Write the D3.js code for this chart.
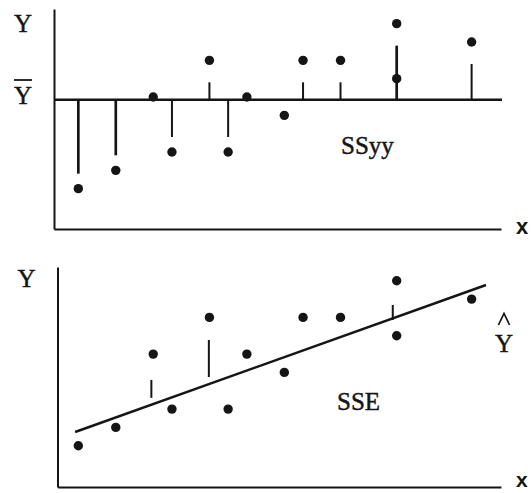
<!DOCTYPE html>
<html>
<head>
<meta charset="utf-8">
<script src="https://cdn.jsdelivr.net/npm/d3@7"></script>
<style>
body { margin: 0; background: #fff; }
svg { display: block; }
.serif { font-family: "Liberation Serif", "Times New Roman", serif; fill: #151515; stroke: #151515; stroke-width: 0.45px; }
.xlab { font-family: "Liberation Sans", Arial, sans-serif; font-weight: bold; fill: #151515; }
.axis path { stroke: #151515; }
</style>
</head>
<body>
<div id="chart"></div>
<script>
//Observations: x on a unit grid, y in the same units in both panels
var xs = [1, 3, 5, 6, 8, 9, 10, 12, 13, 15, 18, 18, 22];
var ys = [1, 2, 6, 3, 8, 3, 6, 5, 8, 8, 10, 7, 9];

//Fitted line as drawn (its two end points)
var fitX = [0.83, 22.77];
var fitY = [1.75, 9.77];

//The three residual marks of the lower panel
var sseX = [4.9, 7.97, 17.79];
var sseTop = [4.59, 6.77, 8.68];
var sseBottom = [3.61, 4.75, 7.86];

var W = 531, H = 493;
var ink = "#151515";

var svg = d3.select("#chart").append("svg")
	.attr("width", W)
	.attr("height", H);

var x = d3.scaleLinear().domain([0, 22]).range([59.6, 471.6]);
var yTop = d3.scaleLinear().domain([-1.2, 10.8]).range([229, 9]);
var yBot = d3.scaleLinear().domain([-1.25, 10.75]).range([487, 267]);

var points = xs.map(function(d, i) { return {x: d, y: ys[i]}; });
var mean = d3.mean(ys);

//Draw the two bare axes of a panel (no ticks)
function drawAxes(g, y, left, right) {
	var bottom = y.range()[0];
	g.append("g")
		.attr("class", "axis")
		.attr("transform", "translate(0," + bottom + ")")
		.call(d3.axisBottom(d3.scaleLinear().range([left, right])).tickValues([]).tickSizeOuter(0))
		.select(".domain").attr("stroke-width", 2);
	g.append("g")
		.attr("class", "axis")
		.attr("transform", "translate(" + left + ",0)")
		.call(d3.axisLeft(y).tickValues([]).tickSizeOuter(0))
		.select(".domain").attr("stroke-width", 2);
}

function drawDots(g, y) {
	g.append("g").selectAll("circle")
		.data(points)
	.enter().append("circle")
		.attr("cx", function(d) { return x(d.x); })
		.attr("cy", function(d) { return y(d.y); })
		.attr("r", 4.7)
		.attr("fill", ink);
}

//---- top panel: deviations from the mean (SSyy)
var topG = svg.append("g");
drawAxes(topG, yTop, 54, 501);

topG.append("line")
	.attr("x1", 54).attr("x2", 502)
	.attr("y1", yTop(mean)).attr("y2", yTop(mean))
	.attr("stroke", ink).attr("stroke-width", 2.4);

//stems stop short of the dots
var gapBelow = 15, gapAbove = 22;
var stems = points.map(function(d) {
	var y0 = yTop(mean), yd = yTop(d.y);
	var y1 = d.y < mean ? yd - gapBelow : yd + gapAbove;
	return {x: d.x, y0: y0, y1: y1, len: d.y < mean ? y1 - y0 : y0 - y1};
}).filter(function(s) { return s.len > 2; });

topG.append("g").selectAll("line")
	.data(stems)
.enter().append("line")
	.attr("x1", function(d) { return x(d.x); })
	.attr("x2", function(d) { return x(d.x); })
	.attr("y1", function(d) { return d.y0; })
	.attr("y2", function(d) { return d.y1; })
	.attr("stroke", ink)
	.attr("stroke-width", function(d) { return d.len > 45 ? 2.7 : 2; });

drawDots(topG, yTop);

topG.append("text").attr("class", "serif")
	.attr("x", 23).attr("y", 32).attr("text-anchor", "middle")
	.style("font-size", "25px").text("Y");
topG.append("text").attr("class", "serif")
	.attr("x", 23).attr("y", 104).attr("text-anchor", "middle")
	.style("font-size", "25px").text("Y");
topG.append("line")
	.attr("x1", 14).attr("x2", 32).attr("y1", 80).attr("y2", 80)
	.attr("stroke", ink).attr("stroke-width", 1.8);
topG.append("text").attr("class", "serif")
	.attr("x", 341).attr("y", 154)
	.style("font-size", "25px").text("SSyy");
topG.append("text").attr("class", "xlab")
	.attr("x", 516).attr("y", 234)
	.style("font-size", "22px").text("x");

//---- bottom panel: deviations from the fitted line (SSE)
var botG = svg.append("g");
drawAxes(botG, yBot, 57.5, 501);

botG.append("line")
	.attr("x1", x(fitX[0])).attr("x2", x(fitX[1]))
	.attr("y1", yBot(fitY[0])).attr("y2", yBot(fitY[1]))
	.attr("stroke", ink).attr("stroke-width", 2.5);

botG.append("g").selectAll("line")
	.data(sseX)
.enter().append("line")
	.attr("x1", function(d) { return x(d); })
	.attr("x2", function(d) { return x(d); })
	.attr("y1", function(d, i) { return yBot(sseTop[i]); })
	.attr("y2", function(d, i) { return yBot(sseBottom[i]); })
	.attr("stroke", ink).attr("stroke-width", 2);

drawDots(botG, yBot);

botG.append("text").attr("class", "serif")
	.attr("x", 26.5).attr("y", 287).attr("text-anchor", "middle")
	.style("font-size", "25px").text("Y");
botG.append("text").attr("class", "serif")
	.attr("x", 504).attr("y", 352).attr("text-anchor", "middle")
	.style("font-size", "25px").text("Y");
botG.append("path")
	.attr("d", "M498.5,325L504,313.5L509.5,325")
	.attr("fill", "none").attr("stroke", ink).attr("stroke-width", 1.7);
botG.append("text").attr("class", "serif")
	.attr("x", 337).attr("y", 410)
	.style("font-size", "25px").text("SSE");
botG.append("text").attr("class", "xlab")
	.attr("x", 516).attr("y", 487)
	.style("font-size", "21px").text("x");
</script>
</body>
</html>
